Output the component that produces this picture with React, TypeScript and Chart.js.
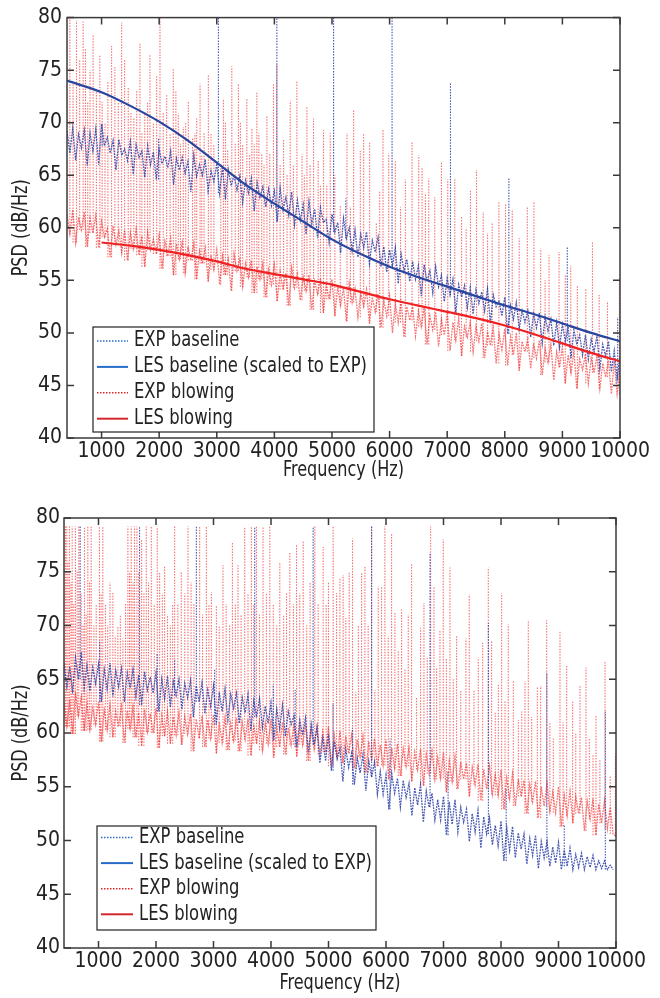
import React, { useEffect, useRef } from "react";
import { Chart, registerables } from "chart.js";

Chart.register(...registerables);

type Pair = [number, number];

const FONT = '"Liberation Sans Narrow", "Arial Narrow", "DejaVu Sans Condensed", sans-serif';
const TICK_SIZE = 21;
const TITLE_SIZE = 21;
const LEGEND_SIZE = 21;

// uniform PSD sampling of the experimental spectra
const FREQ_START = 400;
const FREQ_STEP = 50;
const X_MIN = 400;
const X_MAX = 10000;
const Y_MIN = 40;
const Y_MAX = 80;
const X_TICKS = [1000, 2000, 3000, 4000, 5000, 6000, 7000, 8000, 9000, 10000];
const Y_TICKS = [40, 45, 50, 55, 60, 65, 70, 75, 80];

const X_TITLE = "Frequency (Hz)";
const Y_TITLE = "PSD (dB/Hz)";
const LEGEND_LABELS = ["EXP baseline", "LES baseline (scaled to EXP)", "EXP blowing", "LES blowing"];

// ---------------- TOP PANEL ----------------
const TOP_EXP_BASELINE = [
  69.2, 67.1, 69.5, 66.4, 68.9, 67.6, 69.3, 65.9, 69.0, 67.3,
  69.4, 66.0, 69.9, 67.8, 68.6, 67.1, 68.3, 65.5, 68.4, 66.9,
  67.5, 66.4, 68.2, 65.1, 67.9, 66.7, 67.3, 64.8, 67.8, 66.0,
  67.2, 64.6, 67.5, 66.1, 66.8, 65.7, 67.3, 64.1, 66.6, 65.5,
  66.7, 65.2, 66.3, 63.4, 66.9, 64.9, 66.0, 65.0, 66.5, 63.5,
  65.4, 64.4, 66.1, 63.3, 65.8, 62.7, 65.5, 64.0, 65.0, 63.6,
  64.9, 62.4, 64.5, 63.3, 64.7, 61.6, 64.3, 62.9, 63.9, 62.0,
  63.7, 62.1, 63.5, 60.6, 63.8, 61.7, 62.9, 61.2, 63.4, 60.3,
  62.6, 60.7, 62.2, 59.4, 62.5, 60.4, 61.8, 59.0, 61.9, 60.5,
  60.8, 58.6, 61.3, 59.6, 60.5, 57.6, 60.9, 59.0, 60.0, 57.8,
  59.8, 57.2, 59.4, 58.1, 59.6, 56.6, 58.8, 57.7, 59.1, 56.3,
  58.2, 55.8, 57.9, 56.4, 58.1, 54.7, 57.5, 55.9, 57.0, 54.9,
  56.8, 55.1, 56.4, 53.5, 56.5, 54.9, 55.9, 53.8, 56.3, 54.4,
  55.5, 53.0, 55.2, 53.6, 55.1, 51.9, 54.6, 53.4, 54.5, 52.4,
  54.3, 51.8, 54.1, 52.8, 53.9, 52.1, 54.2, 50.9, 53.6, 52.5,
  53.0, 51.6, 53.4, 49.9, 52.6, 51.3, 52.9, 50.4, 52.1, 51.0,
  52.1, 49.6, 51.8, 50.5, 51.9, 49.0, 51.5, 50.2, 51.3, 48.8,
  51.0, 48.6, 50.8, 49.2, 50.6, 47.6, 50.3, 48.9, 49.8, 47.9,
  49.8, 47.5, 49.4, 48.2, 49.7, 46.6, 48.9, 47.8, 49.2, 46.3,
  48.3, 45.6, 47.8,
];
const TOP_EXP_BASELINE_PEAKS: Pair[] = [
  [1010, 69.9], [1990, 68.6], [3028, 80], [4043, 80], [5028, 80], [5240, 62.8],
  [6043, 80], [7057, 73.8], [8071, 64.8], [9085, 58.2], [9960, 51.5],
];

const TOP_EXP_BLOWING = [
  61.3, 59.4, 61.7, 58.6, 61.0, 59.8, 61.5, 58.2, 60.9, 59.5,
  61.2, 58.1, 60.6, 59.1, 59.9, 57.2, 60.2, 58.4, 59.7, 57.6,
  59.8, 56.9, 59.5, 58.0, 59.9, 57.4, 59.2, 56.3, 59.6, 57.9,
  58.9, 57.5, 59.3, 56.1, 58.7, 57.3, 59.0, 55.5, 58.5, 57.0,
  58.6, 55.7, 58.2, 56.9, 58.5, 55.1, 57.8, 56.6, 58.1, 54.9,
  57.4, 56.0, 57.9, 54.6, 57.3, 55.5, 57.0, 54.0, 57.5, 55.9,
  57.0, 54.4, 56.6, 55.3, 56.9, 53.8, 56.3, 55.1, 56.6, 53.4,
  56.0, 54.6, 56.5, 53.0, 55.8, 54.1, 55.7, 52.6, 56.2, 54.3,
  55.6, 53.1, 55.3, 54.0, 55.5, 52.2, 54.9, 53.7, 55.2, 51.9,
  54.6, 53.2, 55.1, 51.6, 54.4, 52.6, 54.3, 51.1, 54.7, 52.9,
  54.2, 51.5, 53.8, 52.5, 54.1, 50.9, 53.4, 52.0, 53.7, 50.5,
  53.1, 51.6, 53.5, 50.0, 52.8, 51.0, 53.2, 49.6, 52.5, 51.2,
  52.5, 49.7, 52.1, 50.6, 52.4, 48.9, 51.6, 50.3, 52.0, 48.7,
  51.3, 49.8, 51.8, 48.3, 51.0, 49.3, 51.4, 47.8, 50.6, 49.6,
  51.0, 48.2, 50.6, 49.2, 50.9, 47.6, 50.1, 48.8, 50.5, 47.1,
  49.9, 48.4, 50.4, 46.9, 49.6, 47.9, 50.0, 46.4, 49.2, 48.2,
  49.4, 46.6, 49.0, 47.6, 49.3, 46.0, 48.5, 47.2, 48.9, 45.5,
  48.2, 46.7, 48.7, 45.2, 47.9, 46.2, 48.3, 44.7, 47.5, 46.5,
  48.0, 45.2, 47.6, 46.2, 47.8, 44.7, 47.1, 45.8, 47.4, 44.2,
  47.3, 44.2, 46.6,
];
const TOP_EXP_BLOWING_PEAKS: Pair[] = [
  [449, 80], [505, 74], [565, 79.7], [620, 76], [680, 79.6], [720, 77], [760, 72], [800, 75],
  [854, 78.4], [910, 73], [970, 76.4], [1010, 72], [1060, 70], [1110, 74], [1174, 77.3],
  [1231, 75.3], [1290, 72], [1348, 79.5], [1400, 76], [1463, 73.4], [1510, 71], [1560, 70.5],
  [1610, 73], [1666, 77.6], [1700, 69], [1750, 71], [1800, 72], [1840, 76.5], [1900, 70],
  [1957, 74.5], [2014, 80], [2070, 71], [2130, 72.6], [2190, 69], [2245, 75.1], [2290, 73],
  [2332, 70.9], [2370, 68], [2419, 69.6], [2460, 70], [2506, 72.1], [2580, 68.5], [2620, 69],
  [2652, 70.4], [2710, 73.7], [2740, 67], [2780, 69], [2854, 74.6], [2900, 69], [2950, 68],
  [3070, 66], [3115, 72.3], [3150, 70], [3190, 67.5], [3261, 75.4], [3320, 68], [3376, 73.7],
  [3410, 70], [3450, 68], [3522, 72.3], [3570, 67], [3610, 69.5], [3650, 68], [3696, 72.9],
  [3730, 69], [3780, 67], [3820, 66], [3870, 70.6], [3920, 67], [3984, 73.7], [4043, 75.6],
  [4100, 66], [4160, 68.5], [4220, 65], [4275, 72.1], [4330, 66], [4391, 73.9], [4480, 67],
  [4520, 65], [4565, 71.5], [4620, 66], [4680, 70.4], [4760, 66.5], [4800, 64], [4854, 69.3],
  [4910, 64], [4970, 69.0], [5050, 65], [5144, 62.1], [5261, 69], [5320, 62],
  [5376, 71.2], [5492, 67.3], [5550, 69.0], [5654, 68.2],
  [5770, 60.5], [5828, 63.5], [5886, 69.3], [5985, 67.1], [6100, 66.3],
  [6190, 62], [6274, 64.6], [6390, 68.2], [6506, 66.9],
  [6564, 65.7], [6622, 63.3], [6680, 64.7], [6784, 62.9], [6900, 66.2],
  [7010, 64.6], [7132, 64.7], [7250, 61], [7330, 60], [7404, 63.5],
  [7509, 65.5], [7625, 61.5], [7700, 59.5], [7781, 60.5],
  [7897, 62.4], [8013, 62.3], [8129, 61.8], [8250, 59],
  [8391, 62], [8506, 62.4], [8623, 58.0], [8700, 55],
  [8768, 57.4], [8942, 57.7], [9050, 55.5], [9145, 56.4],
  [9260, 54.5], [9406, 54.2], [9522, 58.6],
  [9638, 53.6], [9783, 53.0], [9990, 55.2],
];

const TOP_LES_BASELINE_F = [400, 1000, 1500, 2000, 2500, 3000, 3500, 4000, 4500, 5000, 5500, 6000, 6500, 7000, 7500, 8000, 8500, 9000, 9500, 10000];
const TOP_LES_BASELINE_DB = [74.0, 72.9, 71.6, 70.1, 68.3, 66.2, 64.1, 62.3, 60.6, 58.9, 57.5, 56.3, 55.3, 54.4, 53.5, 52.6, 51.8, 50.9, 50.0, 49.2];
const TOP_LES_BLOWING_F = [1000, 1500, 2000, 2500, 3000, 3500, 4000, 4500, 5000, 5500, 6000, 6500, 7000, 7500, 8000, 8500, 9000, 9500, 10000];
const TOP_LES_BLOWING_DB = [58.6, 58.3, 57.9, 57.4, 56.8, 56.1, 55.6, 55.1, 54.6, 53.9, 53.2, 52.6, 52.0, 51.4, 50.7, 49.9, 49.0, 48.1, 47.3];

// ---------------- BOTTOM PANEL ----------------
const BOT_EXP_BASELINE = [
  66.5, 64.3, 66.2, 63.7, 67.0, 65.0, 67.5, 64.2, 66.3, 63.9,
  66.1, 64.6, 66.4, 62.9, 65.9, 64.1, 66.5, 63.4, 65.8, 64.3,
  66.0, 62.9, 65.6, 64.2, 65.9, 63.4, 65.4, 62.6, 65.7, 64.0,
  65.2, 63.7, 65.6, 62.0, 65.0, 63.2, 65.3, 62.4, 64.8, 63.5,
  65.0, 62.2, 64.6, 63.3, 64.9, 61.5, 64.4, 62.9, 64.7, 61.8,
  64.0, 62.5, 64.4, 60.8, 63.8, 62.0, 64.1, 61.2, 63.6, 62.3,
  63.7, 60.9, 63.3, 61.9, 63.6, 60.2, 63.0, 61.5, 63.2, 60.5,
  62.5, 60.9, 62.8, 59.3, 62.2, 60.4, 62.6, 59.7, 62.0, 60.8,
  61.6, 58.7, 61.2, 59.8, 61.4, 58.2, 60.8, 58.9, 60.5, 57.2,
  59.5, 57.4, 59.9, 56.5, 59.2, 57.6, 58.6, 55.5, 58.5, 56.8,
  58.1, 55.2, 57.7, 56.3, 58.0, 54.6, 57.4, 55.9, 57.3, 54.3,
  56.4, 54.3, 56.1, 52.9, 56.2, 54.4, 55.8, 53.1, 55.6, 54.0,
  55.3, 52.3, 54.9, 53.3, 55.2, 51.7, 54.6, 53.1, 54.4, 51.9,
  53.8, 51.9, 54.1, 50.5, 53.6, 51.5, 53.8, 50.8, 53.1, 51.7,
  52.9, 49.9, 52.5, 50.8, 52.8, 49.3, 52.2, 50.6, 52.1, 49.6,
  51.4, 49.5, 51.8, 48.1, 51.2, 49.1, 51.3, 48.4, 50.7, 49.2,
  50.6, 47.8, 50.2, 48.6, 50.5, 47.4, 49.9, 48.4, 49.9, 47.6,
  49.4, 47.9, 49.8, 47.3, 49.1, 47.6, 49.3, 47.3, 48.7, 47.5,
  48.8, 47.3, 48.5, 47.5, 48.6, 47.3, 48.1, 47.4, 48.1, 47.3,
  47.7, 47.3, null,
];
const BOT_EXP_BASELINE_PEAKS: Pair[] = [
  [681, 79.2], [1020, 68.5], [1714, 79.2], [2020, 67.4], [2324, 66.8], [2702, 79.2],
  [3020, 66], [3717, 79.2], [4040, 64.5], [4420, 64], [4733, 79.2], [5080, 62.8],
  [5420, 60.5], [5750, 79.2], [6070, 59.5], [6766, 76.7], [7080, 56.5], [7781, 70.2],
  [8090, 54.8], [8798, 65.6], [9100, 51.5], [9814, 62.0],
];

const BOT_EXP_BLOWING = [
  62.8, 60.6, 63.1, 59.9, 63.8, 61.6, 63.3, 60.2, 62.7, 60.3,
  62.3, 60.8, 62.9, 59.2, 62.1, 60.3, 62.6, 59.6, 62.0, 60.6,
  62.5, 59.1, 62.1, 60.4, 62.4, 59.6, 61.9, 58.8, 62.2, 60.1,
  61.8, 60.0, 62.3, 58.6, 61.6, 59.7, 62.0, 59.0, 61.5, 59.8,
  61.9, 58.9, 61.5, 59.9, 61.8, 58.3, 61.3, 59.5, 61.6, 58.7,
  61.2, 59.5, 61.7, 58.1, 61.0, 59.1, 61.4, 58.4, 60.9, 59.3,
  61.4, 58.3, 61.0, 59.4, 61.3, 57.9, 60.8, 59.0, 61.1, 58.4,
  60.9, 59.0, 61.3, 57.7, 60.6, 58.7, 61.0, 58.0, 60.5, 58.9,
  60.9, 57.8, 60.5, 58.9, 60.8, 57.4, 60.3, 58.5, 60.6, 58.0,
  60.1, 58.2, 60.6, 56.9, 59.8, 57.8, 60.2, 57.2, 59.7, 58.1,
  59.8, 56.7, 59.4, 57.8, 59.7, 56.3, 59.2, 57.4, 59.5, 56.9,
  58.9, 57.0, 59.4, 55.7, 58.6, 56.7, 59.0, 56.0, 58.5, 56.9,
  58.6, 55.5, 58.2, 56.6, 58.5, 55.1, 58.0, 56.2, 58.3, 55.7,
  57.7, 55.8, 58.2, 54.5, 57.4, 55.5, 57.8, 54.8, 57.3, 55.7,
  57.2, 54.1, 56.8, 55.2, 57.1, 53.7, 56.6, 54.8, 56.9, 54.3,
  56.1, 54.2, 56.6, 52.9, 55.8, 53.9, 56.2, 53.2, 55.7, 54.1,
  55.6, 52.5, 55.2, 53.6, 55.5, 52.1, 55.0, 53.2, 55.3, 52.7,
  54.5, 52.6, 55.0, 51.3, 54.2, 52.3, 54.6, 51.6, 54.1, 52.5,
  54.0, 50.9, 53.6, 52.0, 53.9, 50.5, 53.4, 51.6, 53.7, 51.1,
  53.1, 50.6, 50.4,
];
const BOT_EXP_BLOWING_PEAKS: Pair[] = [
  [425, 79.2], [448, 79.2], [470, 76], [495, 79.2], [520, 74], [542, 79.2], [570, 72], [599, 79.2],
  [630, 75], [657, 79.2], [700, 73], [730, 70], [756, 79.2], [785, 71], [814, 79.2], [845, 74],
  [873, 79.2], [920, 70], [960, 72], [1017, 79.2], [1045, 73], [1075, 79.2], [1120, 72], [1160, 70],
  [1200, 74], [1250, 73.1], [1290, 69], [1337, 69.9], [1380, 71], [1424, 68.8], [1470, 72],
  [1511, 79.2], [1540, 75], [1569, 79.2], [1600, 74], [1627, 79.2], [1668, 79.2], [1700, 75],
  [1750, 78], [1790, 73], [1831, 79.2], [1870, 74], [1918, 79.2], [1970, 72], [2022, 79.2],
  [2063, 75], [2110, 73], [2150, 75.5], [2200, 71], [2250, 70], [2290, 72], [2324, 79.2],
  [2380, 72], [2440, 75], [2500, 73], [2556, 79.2], [2610, 74], [2660, 72], [2759, 79.2],
  [2810, 71], [2876, 79.2], [2920, 72], [2963, 73.1], [3050, 71.9], [3100, 70], [3165, 75.6],
  [3220, 72], [3280, 70], [3329, 77.7], [3380, 72], [3426, 75.6], [3480, 71], [3543, 79.2],
  [3600, 73], [3659, 79.2], [3700, 72], [3747, 79.2], [3800, 71], [3862, 79.2], [3920, 73],
  [3979, 79.2], [4040, 72], [4100, 70], [4153, 75.9], [4220, 71], [4270, 73], [4327, 76.8],
  [4390, 72], [4444, 77.5], [4500, 73], [4560, 77.8], [4620, 70], [4680, 74], [4762, 79.2],
  [4820, 72], [4907, 77.3], [4960, 72], [5000, 74], [5081, 79.2], [5140, 73], [5198, 74.4],
  [5255, 74.7], [5302, 70.7], [5360, 75], [5418, 78.1], [5476, 63.8], [5520, 70], [5575, 75],
  [5633, 75.5], [5690, 70], [5749, 79.2], [5807, 64], [5865, 73.6], [5923, 73.6], [5981, 79.2],
  [6039, 69], [6097, 78.5], [6155, 71.2], [6213, 67.6], [6271, 71.5], [6330, 66], [6387, 71],
  [6445, 75.7], [6532, 63.3], [6602, 69.8], [6660, 72.1], [6718, 67], [6776, 79.2], [6834, 73.7],
  [6880, 66], [6938, 69.5], [6996, 78], [7050, 67], [7112, 75.4], [7170, 65], [7228, 69],
  [7300, 64], [7390, 68.8], [7448, 72.9], [7530, 64], [7605, 67], [7681, 68.4], [7779, 75.4],
  [7837, 68.6], [7900, 62], [7953, 64.6], [8011, 73], [8070, 63], [8127, 70.1], [8214, 64.8],
  [8301, 61.2], [8360, 62], [8417, 64.8], [8475, 70.5], [8533, 61.5], [8632, 64.3], [8690, 64.4],
  [8794, 70.5], [8850, 61], [8910, 59.5], [9026, 69.5], [9080, 61], [9142, 66.3], [9246, 62.9],
  [9300, 60], [9374, 64.5], [9478, 66.1], [9536, 59.5], [9600, 58], [9652, 61.7], [9720, 57.5],
  [9809, 66.6], [9900, 56], [9990, 58],
];

// ---------------- styles ----------------
const C_EXP_BASE = "rgba(40, 60, 165, 0.85)";
const C_EXP_BASE_PEAK = "rgba(45, 65, 175, 0.9)";
const C_EXP_BLOW = "rgba(238, 40, 40, 0.65)";
const C_EXP_BLOW_PEAK = "rgba(242, 55, 55, 0.72)";
const C_LES_BASE = "rgb(40, 70, 160)";
const C_LES_BLOW = "rgb(238, 34, 34)";
const LEG_COLORS = ["rgb(40, 110, 200)", "rgb(40, 110, 200)", "rgb(225, 40, 40)", "rgb(210, 40, 45)"];
const LEG_DOTTED = [true, false, true, false];
const AXIS_COLOR = "#3a3a3a";
const TEXT_COLOR = "#222";

function bandSeries(values: (number | null)[]) {
  return values.map((v, i) => ({ x: FREQ_START + i * FREQ_STEP, y: v }));
}
// each peak is a vertical stroke from the band (lower of the two neighbouring samples) up to its peak level
function peakSeries(values: (number | null)[], peaks: Pair[]) {
  const pts: { x: number; y: number | null }[] = [];
  peaks
    .slice()
    .sort((a, b) => a[0] - b[0])
    .forEach(([f, d]) => {
      const i0 = Math.max(0, Math.min(values.length - 1, Math.floor((f - FREQ_START) / FREQ_STEP)));
      const i1 = Math.min(values.length - 1, i0 + 1);
      const cands = [values[i0], values[i1]].filter((v) => v !== null) as number[];
      if (!cands.length) return;
      const base = Math.min(...cands);
      pts.push({ x: f, y: base }, { x: f, y: d }, { x: f, y: null });
    });
  return pts;
}
function curve(freqs: number[], dbs: number[]) {
  return freqs.map((f, i) => ({ x: f, y: dbs[i] }));
}

type Panel = {
  padTop: number;
  padRight: number;
  yWidth: number;
  xHeight: number;
  xTickPad: number;
  yTickPad: number;
  xTitleY: number;
  yTitleX: number;
  legend: { x: number; y: number; w: number; h: number; row0: number; rowStep: number; lx0: number; lx1: number; tx: number; textW: number };
  datasets: any[];
};

function frameLegendPlugin(p: Panel) {
  return {
    id: "frameLegend",
    afterDatasetsDraw(chart: any) {
      const { ctx, chartArea } = chart;
      const { left, right, top, bottom } = chartArea;
      const xs = chart.scales.x;
      const ys = chart.scales.y;
      const TL = 7;
      ctx.save();
      ctx.setLineDash([]);
      ctx.strokeStyle = AXIS_COLOR;
      ctx.lineWidth = 1.5;
      ctx.beginPath();
      X_TICKS.forEach((v) => {
        const px = xs.getPixelForValue(v);
        ctx.moveTo(px, bottom);
        ctx.lineTo(px, bottom - TL);
        ctx.moveTo(px, top);
        ctx.lineTo(px, top + TL);
      });
      Y_TICKS.forEach((v) => {
        const py = ys.getPixelForValue(v);
        ctx.moveTo(left, py);
        ctx.lineTo(left + TL, py);
        ctx.moveTo(right, py);
        ctx.lineTo(right - TL, py);
      });
      ctx.stroke();
      ctx.strokeRect(left, top, right - left, bottom - top);

      // axis titles (condensed to match the narrow face of the original)
      ctx.font = `${TITLE_SIZE}px ${FONT}`;
      ctx.fillStyle = TEXT_COLOR;
      ctx.textBaseline = "middle";
      ctx.textAlign = "center";
      const tsx = Math.min(1, 121 / ctx.measureText(X_TITLE).width);
      ctx.save();
      ctx.translate((left + right) / 2, p.xTitleY);
      ctx.scale(tsx, 1);
      ctx.fillText(X_TITLE, 0, 0);
      ctx.restore();
      ctx.save();
      ctx.translate(p.yTitleX, (top + bottom) / 2);
      ctx.rotate(-Math.PI / 2);
      ctx.scale(tsx, 1);
      ctx.fillText(Y_TITLE, 0, 0);
      ctx.restore();

      // legend box
      const L = p.legend;
      ctx.fillStyle = "#fff";
      ctx.fillRect(L.x, L.y, L.w, L.h);
      ctx.strokeStyle = "#222";
      ctx.lineWidth = 1.2;
      ctx.strokeRect(L.x, L.y, L.w, L.h);
      ctx.font = `${LEGEND_SIZE}px ${FONT}`;
      ctx.textBaseline = "middle";
      ctx.textAlign = "left";
      const widest = Math.max(...LEGEND_LABELS.map((s) => ctx.measureText(s).width));
      const sx = Math.min(1, L.textW / widest);
      LEGEND_LABELS.forEach((lab, i) => {
        const yy = L.row0 + i * L.rowStep;
        ctx.beginPath();
        ctx.strokeStyle = LEG_COLORS[i];
        ctx.lineWidth = LEG_DOTTED[i] ? 1.4 : 2;
        ctx.setLineDash(LEG_DOTTED[i] ? [1.5, 1.5] : []);
        ctx.moveTo(L.lx0, yy);
        ctx.lineTo(L.lx1, yy);
        ctx.stroke();
        ctx.setLineDash([]);
        ctx.save();
        ctx.translate(L.tx, yy);
        ctx.scale(sx, 1);
        ctx.fillStyle = TEXT_COLOR;
        ctx.fillText(lab, 0, 0);
        ctx.restore();
      });
      ctx.restore();
    },
  };
}

function buildConfig(p: Panel): any {
  const tickFont = { family: FONT, size: TICK_SIZE };
  return {
    type: "line",
    data: { datasets: p.datasets },
    options: {
      responsive: false,
      animation: false,
      devicePixelRatio: 1,
      events: [],
      layout: { padding: { top: p.padTop, right: p.padRight, bottom: 0, left: 0 } },
      plugins: { legend: { display: false }, tooltip: { enabled: false } },
      elements: { point: { radius: 0 }, line: { tension: 0 } },
      scales: {
        x: {
          type: "linear",
          min: X_MIN,
          max: X_MAX,
          grid: { display: false, drawTicks: false },
          border: { display: false },
          afterBuildTicks: (s: any) => {
            s.ticks = X_TICKS.map((v) => ({ value: v }));
          },
          afterFit: (s: any) => {
            s.height = p.xHeight;
          },
          ticks: { font: tickFont, color: TEXT_COLOR, padding: p.xTickPad, maxRotation: 0, autoSkip: false, callback: (v: any) => String(v) },
          title: { display: false, text: X_TITLE },
        },
        y: {
          type: "linear",
          min: Y_MIN,
          max: Y_MAX,
          grid: { display: false, drawTicks: false },
          border: { display: false },
          afterBuildTicks: (s: any) => {
            s.ticks = Y_TICKS.map((v) => ({ value: v }));
          },
          afterFit: (s: any) => {
            s.width = p.yWidth;
          },
          ticks: { font: tickFont, color: TEXT_COLOR, padding: p.yTickPad, callback: (v: any) => String(v) },
          title: { display: false, text: Y_TITLE },
        },
      },
    },
    plugins: [frameLegendPlugin(p)],
  };
}

function band(data: any[], color: string) {
  return { data, borderColor: color, borderWidth: 1.3, borderDash: [1.8, 1.0], pointRadius: 0, fill: false, spanGaps: false };
}
function peaks(data: any[], color: string) {
  return { data, borderColor: color, borderWidth: 1.1, borderDash: [1.5, 1.3], pointRadius: 0, fill: false, spanGaps: false };
}
function solid(data: any[], color: string) {
  return { data, borderColor: color, borderWidth: 2.2, pointRadius: 0, fill: false, cubicInterpolationMode: "monotone" };
}

const TOP_PANEL: Panel = {
  padTop: 13,
  padRight: 40,
  yWidth: 67,
  xHeight: 57,
  xTickPad: 1,
  yTickPad: 5,
  xTitleY: 471,
  yTitleX: 22,
  legend: { x: 93, y: 327, w: 281, h: 105, row0: 341, rowStep: 25.9, lx0: 97, lx1: 128, tx: 134, textW: 233 },
  datasets: [
    solid(curve(TOP_LES_BASELINE_F, TOP_LES_BASELINE_DB), C_LES_BASE),
    solid(curve(TOP_LES_BLOWING_F, TOP_LES_BLOWING_DB), C_LES_BLOW),
    band(bandSeries(TOP_EXP_BASELINE), C_EXP_BASE),
    peaks(peakSeries(TOP_EXP_BASELINE, TOP_EXP_BASELINE_PEAKS), C_EXP_BASE_PEAK),
    band(bandSeries(TOP_EXP_BLOWING), C_EXP_BLOW),
    peaks(peakSeries(TOP_EXP_BLOWING, TOP_EXP_BLOWING_PEAKS), C_EXP_BLOW_PEAK),
  ],
};

const BOTTOM_PANEL: Panel = {
  padTop: 23,
  padRight: 44,
  yWidth: 64,
  xHeight: 50,
  xTickPad: 1,
  yTickPad: 4,
  xTitleY: 489,
  yTitleX: 22,
  legend: { x: 97, y: 331, w: 279, h: 104, row0: 342.5, rowStep: 25.6, lx0: 101, lx1: 133, tx: 139, textW: 233 },
  datasets: [
    band(bandSeries(BOT_EXP_BASELINE), C_EXP_BASE),
    peaks(peakSeries(BOT_EXP_BASELINE, BOT_EXP_BASELINE_PEAKS), C_EXP_BASE_PEAK),
    band(bandSeries(BOT_EXP_BLOWING), C_EXP_BLOW),
    peaks(peakSeries(BOT_EXP_BLOWING, BOT_EXP_BLOWING_PEAKS), C_EXP_BLOW_PEAK),
  ],
};

export default function App() {
  const topRef = useRef<HTMLCanvasElement>(null);
  const botRef = useRef<HTMLCanvasElement>(null);
  useEffect(() => {
    const c1 = new Chart(topRef.current as HTMLCanvasElement, buildConfig(TOP_PANEL));
    const c2 = new Chart(botRef.current as HTMLCanvasElement, buildConfig(BOTTOM_PANEL));
    return () => {
      c1.destroy();
      c2.destroy();
    };
  }, []);
  return (
    <div style={{ position: "absolute", left: 0, top: 0, width: 660, height: 998, background: "#fff" }}>
      <canvas ref={topRef} width={660} height={495} style={{ position: "absolute", left: 0, top: 0 }} />
      <canvas ref={botRef} width={660} height={503} style={{ position: "absolute", left: 0, top: 495 }} />
    </div>
  );
}
